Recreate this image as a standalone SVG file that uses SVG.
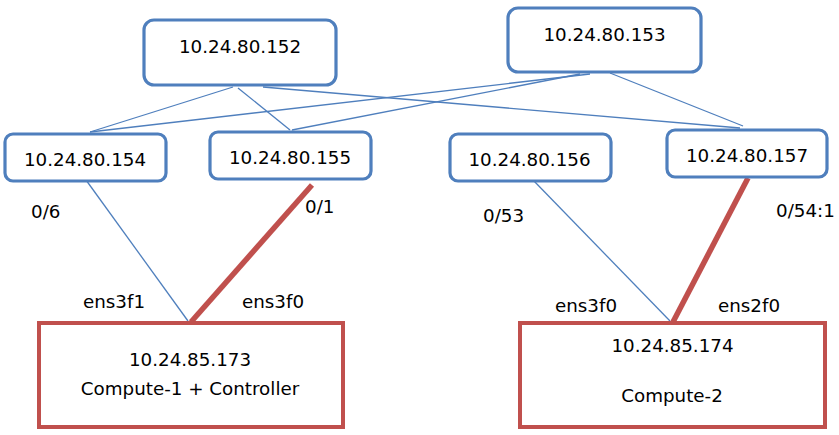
<svg xmlns="http://www.w3.org/2000/svg" width="839" height="435" viewBox="0 0 839 435">
<style>
.sw{fill:#fff;stroke:#4f7fbd;stroke-width:3.2}
.hs{fill:#fff;stroke:#c0504d;stroke-width:4}
.t{font-family:"DejaVu Sans",Verdana,sans-serif;font-size:18.3px;fill:#000}
.c{text-anchor:middle}
.thin{stroke:#4f7fbd;stroke-width:1.3;fill:none}
.thick{stroke:#c0504d;stroke-width:5.5;fill:none}
</style>
<rect width="839" height="435" fill="#fff"/>
<g id="connectors">
<line class="thin" x1="233" y1="87" x2="90" y2="132"/>
<line class="thin" x1="238" y1="88" x2="290" y2="130"/>
<line class="thin" x1="263" y1="87" x2="740" y2="128"/>
<line class="thin" x1="590" y1="74" x2="90" y2="132"/>
<line class="thin" x1="580" y1="74" x2="292" y2="130"/>
<line class="thin" x1="610" y1="73" x2="743" y2="126"/>
<line class="thin" x1="86" y1="180" x2="188" y2="321"/>
<line class="thin" x1="533" y1="180" x2="670" y2="321"/>
<line class="thick" x1="312" y1="185" x2="191" y2="322"/>
<line class="thick" x1="748" y1="178" x2="673" y2="322"/>
</g>
<g id="n152"><rect class="sw" x="144" y="20" width="192" height="65" rx="10"/><text class="t c" x="240" y="53">10.24.80.152</text></g>
<g id="n153"><rect class="sw" x="508" y="8" width="193" height="64" rx="10"/><text class="t c" x="604.5" y="41">10.24.80.153</text></g>
<g id="n154"><rect class="sw" x="5" y="134" width="161" height="47" rx="8"/><text class="t c" x="85" y="166">10.24.80.154</text></g>
<g id="n155"><rect class="sw" x="210" y="132" width="161" height="47" rx="8"/><text class="t c" x="290" y="164">10.24.80.155</text></g>
<g id="n156"><rect class="sw" x="450" y="134" width="161" height="47" rx="8"/><text class="t c" x="529.5" y="166">10.24.80.156</text></g>
<g id="n157"><rect class="sw" x="667" y="130" width="160" height="47" rx="8"/><text class="t c" x="747" y="162">10.24.80.157</text></g>
<g id="n173"><rect class="hs" x="39" y="323" width="304" height="104"/><text class="t c" x="190" y="366">10.24.85.173</text><text class="t c" x="190" y="395">Compute-1 + Controller</text></g>
<g id="n174"><rect class="hs" x="520" y="323" width="305" height="104"/><text class="t c" x="672.5" y="352">10.24.85.174</text><text class="t c" x="672" y="402">Compute-2</text></g>
<g id="labels">
<text class="t" x="31" y="218">0/6</text>
<text class="t" x="305" y="213">0/1</text>
<text class="t" x="83" y="308">ens3f1</text>
<text class="t" x="242" y="308">ens3f0</text>
<text class="t" x="483" y="222">0/53</text>
<text class="t" x="776" y="217">0/54:1</text>
<text class="t" x="555" y="312">ens3f0</text>
<text class="t" x="718" y="312">ens2f0</text>
</g>
</svg>
